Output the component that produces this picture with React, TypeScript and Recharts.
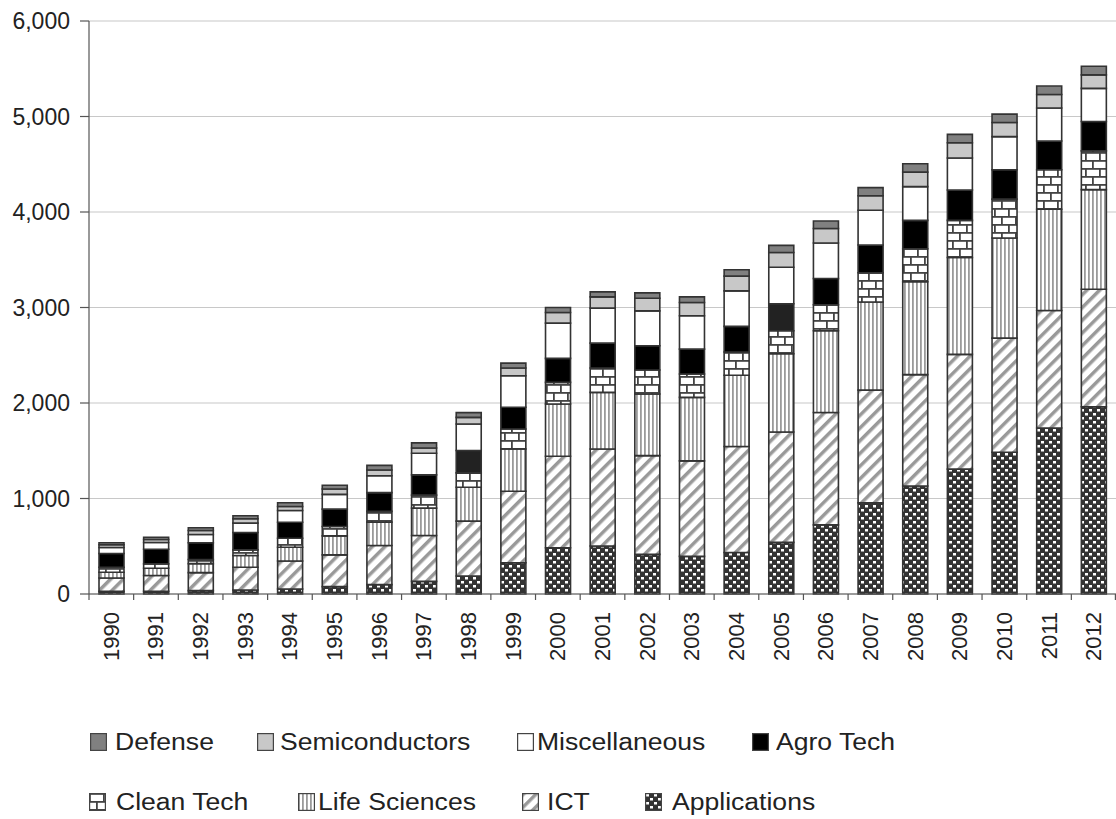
import React from "react";
import { BarChart, Bar, XAxis, YAxis, CartesianGrid, Cell } from "recharts";

const years = [
  "1990", "1991", "1992", "1993", "1994", "1995", "1996", "1997", "1998", "1999", "2000", "2001",
  "2002", "2003", "2004", "2005", "2006", "2007", "2008", "2009", "2010", "2011", "2012",
];
const applications = [28, 28, 35, 42, 52, 77, 98, 132, 188, 327, 484, 502, 415, 394, 435, 541, 724, 954, 1131, 1308, 1484, 1739, 1961];
const ict = [140, 165, 189, 238, 294, 333, 410, 481, 575, 749, 958, 1017, 1034, 1000, 1109, 1155, 1177, 1181, 1166, 1201, 1195, 1230, 1230];
const lifeSciences = [60, 77, 94, 123, 144, 199, 245, 286, 355, 443, 547, 592, 645, 665, 746, 820, 856, 922, 972, 1014, 1049, 1060, 1043];
const cleanTech = [52, 45, 43, 59, 94, 98, 112, 136, 150, 209, 227, 255, 251, 244, 244, 241, 272, 307, 346, 389, 407, 413, 406];
const agroTech = [144, 154, 175, 182, 168, 182, 196, 212, 234, 227, 251, 261, 254, 261, 268, 282, 275, 290, 297, 318, 307, 301, 308];
const miscellaneous = [63, 70, 87, 98, 123, 154, 178, 227, 278, 331, 369, 366, 366, 349, 372, 382, 371, 364, 354, 336, 347, 346, 346];
const semiconductors = [28, 31, 42, 46, 42, 56, 60, 55, 70, 80, 112, 118, 132, 139, 155, 155, 152, 152, 152, 159, 148, 141, 142];
const defense = [21, 25, 28, 31, 38, 39, 48, 53, 49, 52, 52, 53, 56, 59, 67, 75, 78, 85, 88, 88, 88, 89, 90];
const yTicks = [0, 1000, 2000, 3000, 4000, 5000, 6000];
// years where the agro tech block is printed a bit lighter
const darkGreyAgroYears = ["1998", "2005"];

// bottom to top
const series = [
  { key: "app", name: "Applications", fill: "url(#pat-app)" },
  { key: "ict", name: "ICT", fill: "url(#pat-ict)" },
  { key: "ls", name: "Life Sciences", fill: "url(#pat-ls)" },
  { key: "ct", name: "Clean Tech", fill: "url(#pat-ct)" },
  { key: "agro", name: "Agro Tech", fill: "#000000" },
  { key: "misc", name: "Miscellaneous", fill: "#ffffff" },
  { key: "semi", name: "Semiconductors", fill: "#c8c8c8" },
  { key: "def", name: "Defense", fill: "#808080" },
];

const data = years.map((year, i) => ({
  year,
  app: applications[i],
  ict: ict[i],
  ls: lifeSciences[i],
  ct: cleanTech[i],
  agro: agroTech[i],
  misc: miscellaneous[i],
  semi: semiconductors[i],
  def: defense[i],
}));

const W = 1116;
const H = 819;
const LEFT = 89;
const AXIS_Y = 594;
const BAND = (W - LEFT) / years.length;
const FONT = '"Liberation Sans", Arial, sans-serif';

// legend placement (swatch left, text left, row centre)
const legendSlots: Record<string, { sx: number; tx: number; cy: number }> = {
  Defense: { sx: 90, tx: 115, cy: 742 },
  Semiconductors: { sx: 257, tx: 280, cy: 742 },
  Miscellaneous: { sx: 517, tx: 537, cy: 742 },
  "Agro Tech": { sx: 752, tx: 776, cy: 742 },
  "Clean Tech": { sx: 89, tx: 116, cy: 802 },
  "Life Sciences": { sx: 298, tx: 318, cy: 802 },
  ICT: { sx: 522, tx: 547, cy: 802 },
  Applications: { sx: 645, tx: 672, cy: 802 },
};

const XTick = (props: any) => {
  const { x, payload, index } = props;
  const last = index === years.length - 1;
  return (
    <g>
      <line x1={x - BAND / 2} x2={x - BAND / 2} y1={AXIS_Y} y2={AXIS_Y + 6} stroke="#555" strokeWidth={1.2} />
      {last && (
        <line x1={x + BAND / 2 - 0.6} x2={x + BAND / 2 - 0.6} y1={AXIS_Y} y2={AXIS_Y + 6} stroke="#555" strokeWidth={1.2} />
      )}
      <text
        transform={`translate(${x},${AXIS_Y + 18}) rotate(-90)`}
        textAnchor="end"
        dominantBaseline="central"
        fontSize={22}
        fontFamily={FONT}
        fill="#222"
      >
        {payload.value}
      </text>
    </g>
  );
};

export default function App() {
  return (
    <div style={{ position: "absolute", left: 0, top: 0, width: W, height: H, background: "#fff" }}>
      <BarChart width={W} height={H} data={data} margin={{ top: 21, right: 0, left: 0, bottom: 0 }} barSize={25}>
        <defs>
          <pattern id="pat-app" width="8" height="8" patternUnits="userSpaceOnUse">
            <rect width="8" height="8" fill="#333" />
            <rect x="1" y="1" width="3" height="2.5" fill="#fff" />
            <rect x="5" y="5" width="3" height="2.5" fill="#fff" />
          </pattern>
          <pattern id="pat-ict" width="9" height="9" patternUnits="userSpaceOnUse" patternTransform="rotate(45)">
            <rect width="9" height="9" fill="#fff" />
            <rect width="3.5" height="9" fill="#999" />
          </pattern>
          <pattern id="pat-ls" width="4" height="4" patternUnits="userSpaceOnUse">
            <rect width="4" height="4" fill="#fff" />
            <rect width="1.8" height="4" fill="#9a9a9a" />
          </pattern>
          <pattern id="pat-ct" width="14" height="16" patternUnits="userSpaceOnUse">
            <rect width="14" height="16" fill="#fff" />
            <rect y="0" width="14" height="1.8" fill="#444" />
            <rect y="8" width="14" height="1.8" fill="#444" />
            <rect x="0" y="0" width="1.8" height="8" fill="#444" />
            <rect x="7" y="8" width="1.8" height="8" fill="#444" />
          </pattern>
        </defs>
        <CartesianGrid vertical={false} stroke="#c8c8c8" strokeWidth={1.2} />
        <XAxis
          dataKey="year"
          interval={0}
          height={H - AXIS_Y}
          tickLine={false}
          axisLine={{ stroke: "#555", strokeWidth: 1.2 }}
          tick={<XTick />}
        />
        <YAxis
          width={LEFT}
          domain={[0, 6000]}
          ticks={yTicks}
          tickFormatter={(v: number) => v.toLocaleString("en-US")}
          tickSize={9}
          tickMargin={10}
          axisLine={{ stroke: "#555", strokeWidth: 1.2 }}
          tickLine={{ stroke: "#555", strokeWidth: 1.2 }}
          tick={{ fontSize: 23, fontFamily: FONT, fill: "#222" }}
        />
        {series.map((s) => (
          <Bar key={s.key} dataKey={s.key} name={s.name} stackId="a" fill={s.fill} stroke="#333" strokeWidth={1.6} isAnimationActive={false}>
            {s.key === "agro"
              ? data.map((d) => <Cell key={d.year} fill={darkGreyAgroYears.includes(d.year) ? "#222" : "#000"} />)
              : null}
          </Bar>
        ))}
      </BarChart>
      {series.map((s) => {
        const slot = legendSlots[s.name];
        return (
          <React.Fragment key={s.key}>
            <svg
              width={17}
              height={18}
              style={{ position: "absolute", left: slot.sx, top: slot.cy - 9 }}
            >
              <rect x={0.6} y={0.6} width={15.8} height={16.8} fill={s.fill} stroke="#444" strokeWidth={1.2} />
            </svg>
            <div
              style={{
                position: "absolute",
                left: slot.tx,
                top: slot.cy - 15,
                height: 30,
                lineHeight: "30px",
                fontSize: 23.5,
                fontFamily: FONT,
                color: "#222",
                whiteSpace: "nowrap",
                transform: "scaleX(1.13)",
                transformOrigin: "left center",
              }}
            >
              {s.name}
            </div>
          </React.Fragment>
        );
      })}
    </div>
  );
}
